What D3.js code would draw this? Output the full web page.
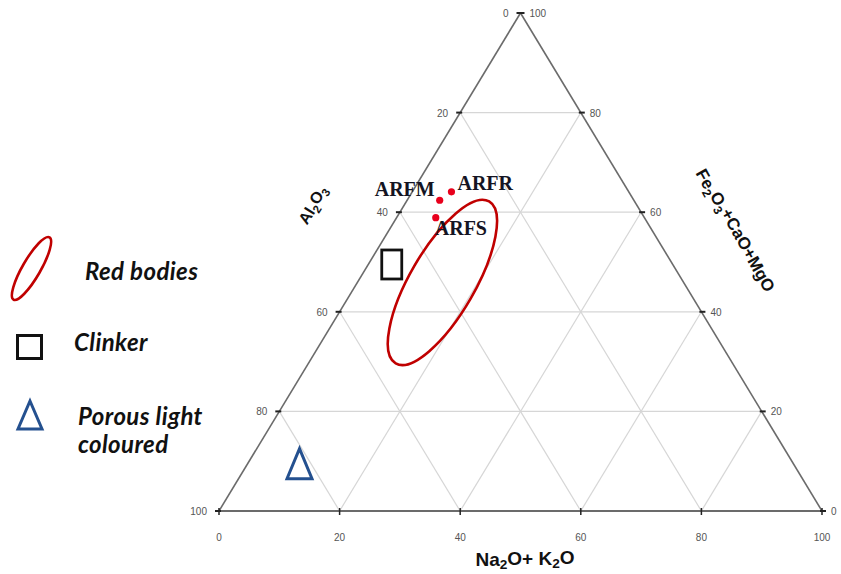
<!DOCTYPE html>
<html>
<head>
<meta charset="utf-8">
<script src="https://cdn.jsdelivr.net/npm/d3@7"></script>
<style>
  html, body { margin: 0; padding: 0; background: #fff; }
  svg { display: block; }
</style>
</head>
<body>
<svg id="chart" width="841" height="574"></svg>
<script>
// Ternary diagram: b = Na2O+K2O (bottom axis), t = Fe2O3+CaO+MgO (vertical / right axis)
const ticks = [0, 20, 40, 60, 80, 100];
const gridLevels = [20, 40, 60, 80];

const sampleNames = ["ARFM", "ARFR", "ARFS"];
const sampleNaK = [5.4, 6.5, 6.5];
const sampleFeCaMg = [62.4, 64.1, 58.9];

// Grouped fields
const redBodies = { naK: 14.1, feCaMg: 45.9, rMajor: 15.5, rMinor: 5.4, angle: -60 };
const clinker = { naK: 3.9, feCaMg: 49.5 };
const porous = { naK: 8.6, feCaMg: 9.5 };

const legendLabels = [["Red bodies"], ["Clinker"], ["Porous light", "coloured"]];

const svg = d3.select("#chart");

const x = d3.scaleLinear().domain([0, 100]).range([219, 822]);
const y = d3.scaleLinear().domain([0, 100]).range([511, 13]);
const P = (b, t) => [x(b + t / 2), y(t)];

const gridColor = "#d6d6d6";
const g = svg.append("g");

// grid lines
gridLevels.forEach(k => {
  // horizontal: constant t
  const h1 = P(0, k), h2 = P(100 - k, k);
  // parallel to left edge: constant b
  const l1 = P(k, 0), l2 = P(k, 100 - k);
  // parallel to right edge: b + t = k
  const r1 = P(k, 0), r2 = P(0, k);
  [[h1, h2], [l1, l2], [r1, r2]].forEach(([a, c]) => {
    g.append("line").attr("x1", a[0]).attr("y1", a[1]).attr("x2", c[0]).attr("y2", c[1])
      .attr("stroke", gridColor).attr("stroke-width", 1.2);
  });
});

// triangle frame
const BL = P(0, 0), BR = P(100, 0), TOP = P(0, 100);
g.append("line").attr("x1", BL[0]).attr("y1", BL[1]).attr("x2", TOP[0]).attr("y2", TOP[1])
  .attr("stroke", "#6b6b6b").attr("stroke-width", 1.6);
g.append("line").attr("x1", BR[0]).attr("y1", BR[1]).attr("x2", TOP[0]).attr("y2", TOP[1])
  .attr("stroke", "#6b6b6b").attr("stroke-width", 1.6);
g.append("line").attr("x1", BL[0]).attr("y1", BL[1]).attr("x2", BR[0]).attr("y2", BR[1])
  .attr("stroke", "#6b6b6b").attr("stroke-width", 2.2);

const tickFont = "Liberation Sans Narrow, Liberation Sans, sans-serif";
const tickColor = "#555";

// bottom axis ticks and labels
ticks.forEach(v => {
  const p = P(v, 0);
  g.append("line").attr("x1", p[0]).attr("y1", p[1] - 3).attr("x2", p[0]).attr("y2", p[1] + 4)
    .attr("stroke", "#222").attr("stroke-width", 1.5);
  g.append("text").attr("x", p[0]).attr("y", p[1] + 30).attr("text-anchor", "middle")
    .attr("font-family", tickFont).attr("font-size", 10).attr("fill", tickColor).text(v);
});

// left axis (value 0 at the apex, 100 at the bottom-left corner)
ticks.forEach(v => {
  const p = P(0, 100 - v);
  g.append("line").attr("x1", p[0] - 4).attr("y1", p[1]).attr("x2", p[0] + 2).attr("y2", p[1])
    .attr("stroke", "#222").attr("stroke-width", 2);
  g.append("text").attr("x", p[0] - 12).attr("y", p[1] + 4).attr("text-anchor", "end")
    .attr("font-family", tickFont).attr("font-size", 10).attr("fill", tickColor).text(v);
});

// right axis (100 at the apex, 0 at the bottom-right corner)
ticks.forEach(v => {
  const p = P(100 - v, v);
  g.append("line").attr("x1", p[0] - 2).attr("y1", p[1]).attr("x2", p[0] + 4).attr("y2", p[1])
    .attr("stroke", "#222").attr("stroke-width", 2);
  g.append("text").attr("x", p[0] + 9).attr("y", p[1] + 4).attr("text-anchor", "start")
    .attr("font-family", tickFont).attr("font-size", 10).attr("fill", tickColor).text(v);
});

// chemical formula text with subscripts
function chem(parent, parts, attrs, shift) {
  const t = parent.append("text");
  Object.entries(attrs).forEach(([k, v]) => t.attr(k, v));
  let prevSub = false;
  parts.forEach(([s, sub]) => {
    const ts = t.append("tspan").text(s);
    if (sub) { ts.attr("font-size", "72%").attr("dy", prevSub ? null : shift + "em"); }
    else if (prevSub) { ts.attr("dy", (-shift) + "em"); }
    prevSub = sub;
  });
  return t;
}

chem(g, [["Na", 0], ["2", 1], ["O+ K", 0], ["2", 1], ["O", 0]], {
  x: 525, y: 566, "text-anchor": "middle", "font-family": "Liberation Sans, sans-serif",
  "font-weight": "bold", "font-size": 19, fill: "#111"
}, 0.22);

chem(g, [["Al", 0], ["2", 1], ["O", 0], ["3", 1]], {
  transform: "translate(318,208) rotate(-58)", "text-anchor": "middle",
  "font-family": "Liberation Sans, sans-serif", "font-weight": "bold", "font-size": 16, fill: "#111"
}, 0.32);

chem(g, [["Fe", 0], ["2", 1], ["O", 0], ["3", 1], ["+CaO+MgO", 0]], {
  transform: "translate(729,234) rotate(61)", "text-anchor": "middle",
  "font-family": "Liberation Sans, sans-serif", "font-weight": "bold", "font-size": 17, fill: "#111"
}, 0.32);

// red bodies field
const ec = P(redBodies.naK, redBodies.feCaMg);
const unit = x(1) - x(0);
g.append("ellipse")
  .attr("transform", `translate(${ec[0]},${ec[1]}) rotate(${redBodies.angle})`)
  .attr("rx", redBodies.rMajor * unit).attr("ry", redBodies.rMinor * unit)
  .attr("fill", "none").attr("stroke", "#c00000").attr("stroke-width", 2.6);

// clinker
const cc = P(clinker.naK, clinker.feCaMg);
g.append("rect").attr("x", cc[0] - 10).attr("y", cc[1] - 14.5).attr("width", 20).attr("height", 29)
  .attr("fill", "none").attr("stroke", "#111").attr("stroke-width", 2.8);

// porous light coloured
const pc = P(porous.naK, porous.feCaMg);
g.append("path")
  .attr("d", `M${pc[0]},${pc[1] - 15} L${pc[0] + 12.5},${pc[1] + 15} L${pc[0] - 12.5},${pc[1] + 15} Z`)
  .attr("fill", "none").attr("stroke", "#24508f").attr("stroke-width", 3).attr("stroke-linejoin", "miter");

// samples
const labelOffsets = { ARFM: [-5, -4, "end"], ARFR: [6, -2, "start"], ARFS: [-1, 17, "start"] };
sampleNames.forEach((n, i) => {
  const p = P(sampleNaK[i], sampleFeCaMg[i]);
  g.append("circle").attr("cx", p[0]).attr("cy", p[1]).attr("r", 3.6).attr("fill", "#e8001c");
  const o = labelOffsets[n];
  g.append("text").attr("x", p[0] + o[0]).attr("y", p[1] + o[1]).attr("text-anchor", o[2])
    .attr("font-family", "Liberation Serif, serif").attr("font-weight", "bold")
    .attr("font-size", 20).attr("fill", "#141423").text(n);
});

// legend
const lg = svg.append("g");
lg.append("ellipse").attr("transform", "translate(31.5,268.5) rotate(-60)")
  .attr("rx", 36).attr("ry", 9).attr("fill", "none").attr("stroke", "#c00000").attr("stroke-width", 2.6);
lg.append("rect").attr("x", 17.5).attr("y", 335.5).attr("width", 24).attr("height", 23)
  .attr("fill", "none").attr("stroke", "#111").attr("stroke-width", 3);
lg.append("path").attr("d", "M30,401 L42,429 L18,429 Z")
  .attr("fill", "none").attr("stroke", "#24508f").attr("stroke-width", 3);

const legendPos = [[85, 280], [74, 351], [78, 425]];
legendLabels.forEach((lines, i) => {
  const t = lg.append("text").attr("x", legendPos[i][0]).attr("y", legendPos[i][1])
    .attr("font-family", "Lato, sans-serif").attr("font-weight", "bold").attr("font-style", "italic")
    .attr("font-size", 24).attr("letter-spacing", 0.4).attr("fill", "#111");
  lines.forEach((s, j) => t.append("tspan").attr("x", legendPos[i][0]).attr("dy", j ? 28 : 0).text(s));
});
</script>
</body>
</html>
